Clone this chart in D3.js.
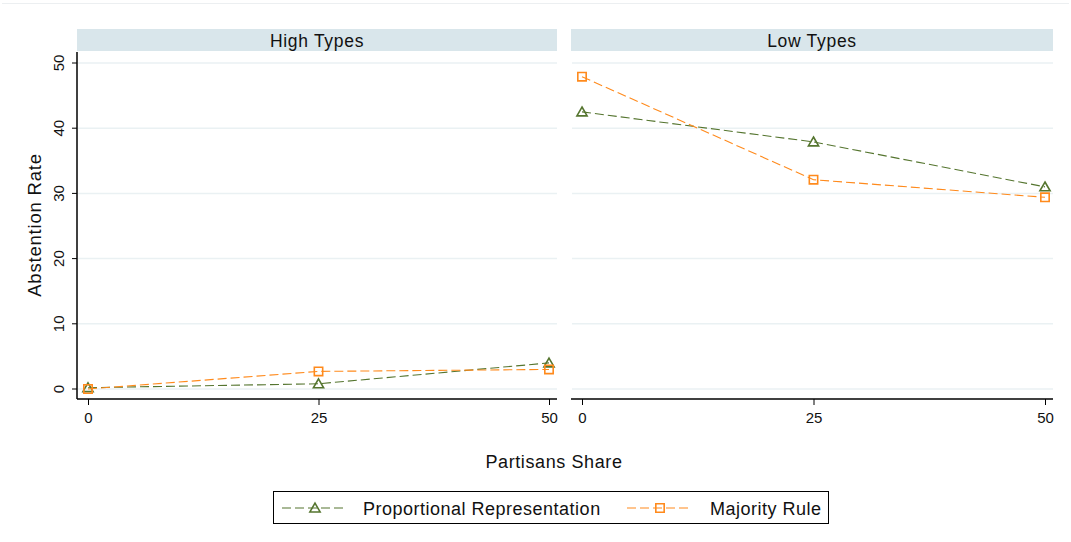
<!DOCTYPE html>
<html>
<head>
<meta charset="utf-8">
<script src="https://cdn.jsdelivr.net/npm/d3@7"></script>
<style>
  body { margin: 0; background: #fff; }
  svg { font-family: "Liberation Sans", Arial, sans-serif; }
</style>
</head>
<body>
<div id="chart"></div>
<script>
// data
const panels = ['High Types', 'Low Types'];
const shares = [0, 25, 50];
const yTicks = [0, 10, 20, 30, 40, 50];
const highPR = [0.2, 0.8, 4.0];
const highMR = [0.0, 2.7, 3.0];
const lowPR = [42.5, 37.9, 31.0];
const lowMR = [47.9, 32.1, 29.4];
const seriesNames = ['Proportional Representation', 'Majority Rule'];
const seriesColors = ['#55752f', '#ff8a1c'];

const panelData = [
    [highPR, highMR],
    [lowPR, lowMR]
];

let width = 1071, height = 542;
let svg = d3.select('#chart').append('svg')
    .attr('width', width)
    .attr('height', height);

// faint outer frame line at top
svg.append('line')
    .attr('x1', 2).attr('x2', width - 2)
    .attr('y1', 3.5).attr('y2', 3.5)
    .style('stroke', '#eceff1');

let panelX = [[77, 557], [571, 1053]];
let plotTop = 52, plotBottom = 399;

let y = d3.scaleLinear().domain([0, 50]).range([389, 63]);

panels.forEach(function (title, p) {
    let x0 = panelX[p][0], x1 = panelX[p][1];
    let x = d3.scaleLinear().domain([0, 50]).range([x0 + 11, x1 - 8]);
    let g = svg.append('g');

    // strip
    g.append('rect')
        .attr('x', x0).attr('y', 29)
        .attr('width', x1 - x0).attr('height', 22)
        .style('fill', '#d9e6eb');
    g.append('text')
        .attr('x', (x0 + x1) / 2).attr('y', 46.5)
        .attr('text-anchor', 'middle')
        .style('font-size', '17.5px')
        .style('letter-spacing', '0.7px')
        .style('fill', '#111')
        .text(title);

    // grid
    g.selectAll('.grid')
        .data(yTicks)
        .enter().append('line')
        .attr('x1', x0 + 1).attr('x2', x1)
        .attr('y1', d => y(d)).attr('y2', d => y(d))
        .style('stroke', '#eaf1f3')
        .style('stroke-width', 1.5);

    // x axis
    let xAxis = d3.axisBottom(x).tickValues(shares).tickSize(6).tickPadding(7);
    let gx = g.append('g')
        .attr('transform', 'translate(0,' + plotBottom + ')')
        .call(xAxis);
    gx.select('.domain').remove();
    gx.append('line')
        .attr('x1', x0).attr('x2', x1)
        .style('stroke', '#000').style('stroke-width', 1.5);
    gx.selectAll('text').style('font-size', '15px').style('fill', '#111');

    // y axis only on left panel
    if (p === 0) {
        let yAxis = d3.axisLeft(y).tickValues(yTicks).tickSize(5).tickPadding(0);
        let gy = g.append('g')
            .attr('transform', 'translate(' + x0 + ',0)')
            .call(yAxis);
        gy.select('.domain').remove();
        gy.append('line')
            .attr('y1', plotTop).attr('y2', plotBottom)
            .style('stroke', '#000').style('stroke-width', 1.5);
        gy.selectAll('.tick').attr('transform', null);
        gy.selectAll('.tick line').attr('y1', d => y(d)).attr('y2', d => y(d));
        gy.selectAll('text')
            .attr('x', null).attr('dy', null)
            .attr('text-anchor', 'middle')
            .attr('transform', d => 'translate(-18,' + y(d) + ') rotate(-90)')
            .attr('y', 5)
            .style('font-size', '15px').style('fill', '#111');
    }

    // lines and markers
    panelData[p].forEach(function (vals, s) {
        let pts = shares.map((d, i) => [d, vals[i]]);
        let line = d3.line().x(d => x(d[0])).y(d => y(d[1]));
        g.append('path')
            .attr('d', line(pts))
            .style('fill', 'none')
            .style('stroke', seriesColors[s])
            .style('stroke-width', 1.1)
            .style('stroke-dasharray', '9,4');
        let sym = d3.symbol().type(s === 0 ? d3.symbolTriangle : d3.symbolSquare).size(s === 0 ? 45 : 70);
        g.selectAll('.m' + s)
            .data(pts)
            .enter().append('path')
            .attr('d', sym)
            .attr('transform', d => 'translate(' + x(d[0]) + ',' + (y(d[1]) + (s === 0 ? 1 : 0)) + ')')
            .style('fill', 'none')
            .style('stroke', seriesColors[s])
            .style('stroke-width', 1.6);
    });
});

// axis titles
svg.append('text')
    .attr('transform', 'translate(41,225) rotate(-90)')
    .attr('text-anchor', 'middle')
    .style('font-size', '18.5px')
    .style('letter-spacing', '0.8px')
    .style('fill', '#111')
    .text('Abstention Rate');
svg.append('text')
    .attr('x', 554).attr('y', 468)
    .attr('text-anchor', 'middle')
    .style('font-size', '18px')
    .style('letter-spacing', '0.6px')
    .style('fill', '#111')
    .text('Partisans Share');

// legend
let lg = svg.append('g');
lg.append('rect')
    .attr('x', 273.5).attr('y', 491.5)
    .attr('width', 555).attr('height', 32)
    .style('fill', '#fff').style('stroke', '#000').style('stroke-width', 1);
let legendX = [282, 627];
let legendTextX = [363, 710];
seriesNames.forEach(function (name, s) {
    let lx = legendX[s];
    lg.append('line')
        .attr('x1', lx).attr('x2', lx + 63)
        .attr('y1', 508).attr('y2', 508)
        .style('stroke', seriesColors[s])
        .style('stroke-width', 1.1)
        .style('stroke-dasharray', '9,4');
    let sym = d3.symbol().type(s === 0 ? d3.symbolTriangle : d3.symbolSquare).size(s === 0 ? 45 : 70);
    lg.append('path')
        .attr('d', sym)
        .attr('transform', 'translate(' + (lx + 33) + ',' + (s === 0 ? 509 : 508) + ')')
        .style('fill', 'none')
        .style('stroke', seriesColors[s])
        .style('stroke-width', 1.6);
    lg.append('text')
        .attr('x', legendTextX[s]).attr('y', 515)
        .style('font-size', '18px')
        .style('letter-spacing', '0.5px')
        .style('fill', '#111')
        .text(name);
});
</script>
</body>
</html>
